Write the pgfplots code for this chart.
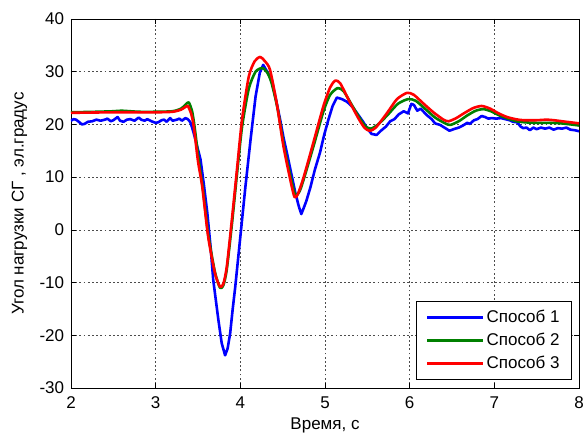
\documentclass[border=0pt]{standalone}
\usepackage{fontspec}
\setmainfont{Liberation Sans}
\usepackage{pgfplots}
\pgfplotsset{compat=1.18}
\definecolor{mblue}{rgb}{0,0,1}
\definecolor{mgreen}{rgb}{0,0.5,0}
\definecolor{mred}{rgb}{1,0,0}
\begin{document}
\fontsize{17}{20}\selectfont
\begin{tikzpicture}
\begin{axis}[name=ax, scale only axis, width=508pt, height=369pt,
  xmin=2, xmax=8, ymin=-30, ymax=40,
  xtick={2,3,4,5,6,7,8}, xticklabels={2,3,4,5,6,7,8},
  ytick={-30,-20,-10,0,10,20,30,40},
  yticklabels={-30,-20,-10,0,10,20,30,40},
  tick align=inside, major tick length=5pt,
  xtick pos=both, ytick pos=both,
  grid=major,
  major grid style={black!70, line width=0.6pt, dash pattern=on 1.8pt off 2.4pt},
  axis line style={line width=0.8pt},
  every tick/.style={black, line width=0.7pt},
  tick label style={font=\fontsize{17}{20}\selectfont},
  label style={font=\fontsize{17}{20}\selectfont},
  xlabel={Время, с}, ylabel={Угол нагрузки СГ , эл.градус},
  xlabel style={at={(axis description cs:0.5,0)}, anchor=north, yshift=-24pt},
  ylabel style={at={(axis description cs:0,0.5)}, anchor=south, yshift=38pt},
  xticklabel style={yshift=-3pt},
  yticklabel style={xshift=-1pt},
  legend cell align=left,
  legend style={at={(rel axis cs:0.986,0.024)}, anchor=south east, draw=black, line width=0.6pt,
     font=\fontsize{17}{20}\selectfont, inner xsep=10pt, inner ysep=6pt, row sep=4pt},
  legend image code/.code={\draw[#1] (0pt,0pt) -- (56pt,0pt);},
]
\addplot[mblue, line width=2.6pt, line join=round] coordinates {
(2.00,20.7)(2.03,21.0)(2.06,20.9)(2.10,20.4)(2.13,20.0)(2.16,20.1)(2.20,20.5)(2.25,20.6)(2.30,20.9)(2.35,20.7)(2.40,20.9)(2.43,21.1)(2.47,20.6)(2.50,20.8)(2.55,21.4)(2.58,20.7)(2.62,20.5)(2.66,20.9)(2.70,21.0)(2.75,20.7)(2.80,21.3)(2.83,20.9)(2.87,20.7)(2.90,21.0)(2.95,20.6)(3.00,20.3)(3.03,20.4)(3.07,20.8)(3.10,20.9)(3.13,20.5)(3.17,21.2)(3.20,20.7)(3.25,20.9)(3.28,21.1)(3.31,20.7)(3.35,21.2)(3.38,21.0)(3.41,20.4)(3.44,18.9)(3.48,16.5)(3.53,13.3)(3.57,8.5)(3.61,3.2)(3.65,-3.5)(3.68,-9.5)(3.74,-17)(3.78,-21.5)(3.82,-23.8)(3.85,-22.5)(3.88,-19.6)(3.91,-15)(3.94,-10.8)(4.00,-1.3)(4.06,8.2)(4.12,17)(4.18,25.3)(4.23,29.8)(4.27,31.3)(4.31,30.2)(4.37,28.5)(4.42,24.8)(4.47,20.9)(4.51,17.5)(4.55,14.6)(4.60,10.8)(4.65,7.0)(4.69,4.5)(4.72,3.0)(4.75,4.2)(4.78,5.5)(4.83,8.2)(4.88,11.4)(4.94,14.6)(4.99,18.0)(5.04,20.9)(5.09,23.5)(5.14,25.1)(5.20,24.8)(5.26,24.3)(5.32,23.4)(5.38,22.1)(5.45,20.5)(5.50,19.2)(5.55,18.2)(5.61,18.0)(5.66,18.8)(5.72,19.6)(5.77,20.6)(5.82,21.0)(5.87,21.9)(5.93,22.5)(5.98,22.1)(6.02,23.9)(6.05,23.7)(6.09,22.6)(6.13,23.0)(6.20,21.8)(6.26,21.0)(6.30,20.2)(6.36,19.9)(6.42,19.3)(6.47,18.8)(6.52,19.1)(6.58,19.4)(6.63,19.8)(6.68,20.3)(6.71,20.1)(6.76,20.8)(6.80,21.0)(6.85,21.6)(6.89,21.4)(6.93,21.1)(6.97,21.2)(7.02,21.1)(7.08,21.2)(7.13,21.0)(7.18,20.8)(7.22,20.5)(7.27,20.4)(7.31,19.6)(7.34,19.3)(7.38,19.4)(7.42,18.9)(7.46,19.4)(7.50,19.1)(7.55,19.4)(7.60,19.2)(7.65,19.4)(7.70,19.0)(7.75,19.3)(7.80,19.2)(7.85,19.4)(7.90,19.0)(7.95,18.9)(8.00,18.7)
};
\addlegendentry{Способ 1}
\addplot[mgreen, line width=2.6pt, line join=round, smooth, tension=0.4] coordinates {
(2.00,22.3)(2.30,22.4)(2.50,22.5)(2.60,22.6)(2.80,22.4)(3.00,22.4)(3.20,22.5)(3.30,23.0)(3.35,23.7)(3.39,24.2)(3.43,22.5)(3.46,19.5)(3.51,13.0)(3.56,7.5)(3.62,-0.8)(3.70,-8.0)(3.76,-11.0)(3.80,-10.5)(3.84,-7.5)(3.90,1.0)(3.96,10.5)(4.02,19.5)(4.10,26.8)(4.18,30.0)(4.26,30.7)(4.32,29.8)(4.37,27.8)(4.44,23)(4.52,15.5)(4.60,9.6)(4.65,6.6)(4.70,7.3)(4.76,10.2)(4.87,16.2)(4.98,22.4)(5.06,25.6)(5.15,26.9)(5.22,26.3)(5.32,23.6)(5.42,20.9)(5.48,19.6)(5.54,19.2)(5.62,19.9)(5.74,21.8)(5.86,23.9)(5.98,24.8)(6.07,24.5)(6.18,23.0)(6.30,21.3)(6.42,20.2)(6.48,19.9)(6.58,20.6)(6.68,21.7)(6.78,22.6)(6.87,22.9)(6.96,22.5)(7.06,21.7)(7.16,21.1)(7.26,20.6)(7.36,20.4)(7.50,20.3)(7.70,20.3)(7.85,20.1)(8.00,19.8)
};
\addlegendentry{Способ 2}
\addplot[mred, line width=2.6pt, line join=round, smooth, tension=0.4] coordinates {
(2.00,22.2)(2.50,22.3)(3.00,22.3)(3.20,22.4)(3.30,22.8)(3.35,23.3)(3.38,23.5)(3.42,22.0)(3.45,19.6)(3.50,13.0)(3.55,8.2)(3.62,-1.3)(3.70,-8.2)(3.76,-10.8)(3.80,-10.2)(3.84,-7)(3.90,1.9)(3.96,11.4)(4.02,20.9)(4.10,29.1)(4.17,32.0)(4.235,32.8)(4.29,32.0)(4.35,30.4)(4.43,24)(4.51,15.8)(4.59,9.5)(4.64,6.2)(4.68,6.8)(4.75,10.1)(4.86,16.4)(4.98,23.4)(5.06,27.0)(5.12,28.3)(5.18,27.8)(5.30,24.0)(5.40,21.0)(5.47,19.3)(5.53,18.8)(5.60,19.4)(5.73,22.1)(5.85,24.8)(5.97,26.0)(6.05,25.6)(6.16,24.0)(6.28,22.3)(6.40,20.9)(6.46,20.6)(6.55,21.2)(6.64,22.1)(6.75,23.1)(6.85,23.5)(6.95,23.0)(7.05,22.1)(7.15,21.4)(7.25,21.0)(7.34,20.8)(7.50,20.8)(7.62,20.9)(7.70,20.8)(7.80,20.6)(7.90,20.4)(8.00,20.2)
};
\addlegendentry{Способ 3}
\end{axis}
\pgfresetboundingbox
\path[use as bounding box] ([shift={(-71pt,-48pt)}]ax.south west) rectangle ([shift={(6pt,19pt)}]ax.north east);
\end{tikzpicture}
\end{document}
